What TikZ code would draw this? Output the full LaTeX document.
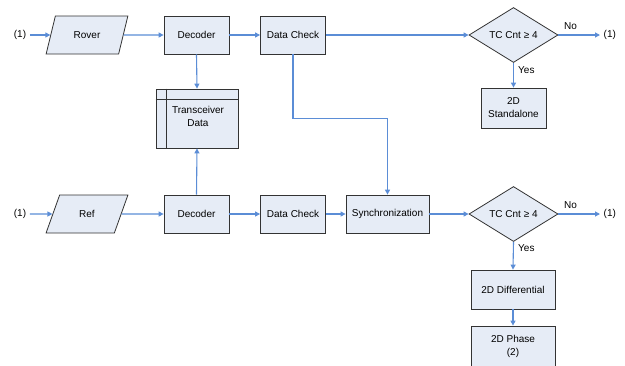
\documentclass[tikz,border=0pt]{standalone}
\usepackage{fontspec}
\setmainfont{Liberation Sans}
\usetikzlibrary{shapes.geometric,arrows.meta}
\definecolor{boxfill}{HTML}{E6ECF6}
\definecolor{boxline}{HTML}{333333}
\definecolor{flow}{HTML}{5B8DD6}
\tikzset{
  base/.style={draw=boxline,fill=boxfill,line width=0.8pt,inner sep=1pt,align=center,font=\fontsize{10}{13}\selectfont},
  procbox/.style={base,rectangle,minimum width=65pt,minimum height=38pt},
  iobox/.style={base,trapezium,trapezium left angle=65,trapezium right angle=115,trapezium stretches=true,minimum width=82pt,minimum height=38pt},
  decbox/.style={base,diamond,aspect=1.6,inner sep=0pt,minimum width=89pt,minimum height=55pt},
  lbl/.style={inner sep=0pt,font=\fontsize{10}{12}\selectfont},
  term/.style={inner sep=3.5pt,font=\fontsize{10}{12}\selectfont},
  flowline/.style={draw=flow,line width=1.1pt,-{Triangle[length=5pt,width=5pt]}},
}
\begin{document}
\begin{tikzpicture}[x=1pt,y=-1pt]
\useasboundingbox (0,0) rectangle (625,365);
% top row
\node[term] (in1) at (20,35) {(1)};
\node[iobox] (rover) at (87,35) {Rover};
\node[procbox] (dec1) at (196.5,35) {Decoder};
\node[procbox] (dc1) at (293,35) {Data Check};
\node[decbox] (dia1) at (513.5,35) {TC Cnt ≥ 4};
\node[term,anchor=west] (out1) at (600,35) {(1)};
\node[lbl,anchor=west] (no1) at (564,26) {No};
\node[lbl,anchor=west] (yes1) at (518,70) {Yes};
\node[procbox,minimum width=65pt,minimum height=40pt] (sa) at (513.5,108) {2D\\Standalone};
% transceiver data
\node[base,rectangle,minimum width=82pt,minimum height=59pt] (td) at (197,118.5) {};
\draw[boxline,line width=0.8pt] ([yshift=-11pt]td.north west) -- ([yshift=-11pt]td.north east);
\draw[boxline,line width=0.8pt] ([xshift=11pt]td.north west) -- ([xshift=11pt]td.south west);
\node[lbl,align=center,font=\fontsize{10}{13}\selectfont] (tdt) at (198,116) {Transceiver\\Data};
% bottom row
\node[term] (in2) at (20,214) {(1)};
\node[iobox] (ref) at (87,214) {Ref};
\node[procbox] (dec2) at (196.5,214) {Decoder};
\node[procbox] (dc2) at (293,214) {Data Check};
\node[procbox,minimum width=83pt] (sync) at (387.5,214) {Synchronization};
\node[decbox] (dia2) at (513.5,214) {TC Cnt ≥ 4};
\node[term,anchor=west] (out2) at (600,214) {(1)};
\node[lbl,anchor=west] (no2) at (564,205) {No};
\node[lbl,anchor=west] (yes2) at (518,248) {Yes};
\node[procbox,minimum width=84pt,minimum height=39pt] (diff) at (513,289.5) {2D Differential};
\node[procbox,minimum width=84pt,minimum height=40pt] (phase) at (513,346) {2D Phase\\(2)};
% connectors
\draw[flowline] (in1) -- (rover);
\draw[flowline] (rover) -- (dec1);
\draw[flowline] (dec1) -- (dc1);
\draw[flowline] (dc1) -- (dia1);
\draw[flowline] (dia1.east) -- (out1.west);
\draw[flowline] (dia1.south) -- (sa.north);
\draw[flowline] (dec1.south) -- (td.north);
\draw[flowline] (dec2.north) -- (td.south);
\draw[flowline] (dc1.south) -- ++(0,64) -| (sync.north);
\draw[flowline] (in2) -- (ref);
\draw[flowline] (ref) -- (dec2);
\draw[flowline] (dec2) -- (dc2);
\draw[flowline] (dc2) -- (sync);
\draw[flowline] (sync) -- (dia2);
\draw[flowline] (dia2.east) -- (out2.west);
\draw[flowline] (dia2.south) -- (diff.north);
\draw[flowline] (diff) -- (phase);
\end{tikzpicture}
\end{document}
